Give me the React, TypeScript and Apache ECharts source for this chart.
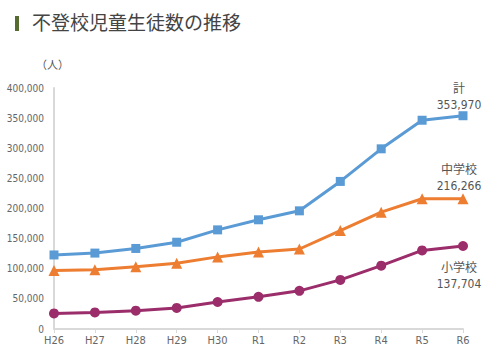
import React, { useEffect, useRef } from "react";
import * as echarts from "echarts";

const categories = ["H26", "H27", "H28", "H29", "H30", "R1", "R2", "R3", "R4", "R5", "R6"];
const totalValues = [122897, 125991, 133683, 144031, 164528, 181272, 196127, 244940, 299048, 346482, 353970];
const juniorValues = [97033, 98408, 103235, 108999, 119687, 127922, 132777, 163442, 193936, 216112, 216266];
const elementaryValues = [25864, 27583, 30448, 35032, 44841, 53350, 63350, 81498, 105112, 130370, 137704];
const seriesNames = ["計", "中学校", "小学校"];
const titleText = "不登校児童生徒数の推移";
const unitText = "（人）";

const fmt = (v: number) => v.toLocaleString("en-US");
const font = "'DejaVu Sans Condensed', 'Noto Sans CJK JP', sans-serif";

export default function App() {
  const ref = useRef<HTMLDivElement>(null);
  useEffect(() => {
    const chart = echarts.init(ref.current!, null, { renderer: "svg" });
    const last = categories.length - 1;
    const mkSeries = (name: string, data: number[], color: string, symbol: string, size: number, labelPos: "top" | "bottom", offsetY: number) => ({
      name,
      type: "line",
      data: data.map((v, i) =>
        i === last
          ? {
              value: v,
              label: {
                show: true,
                position: labelPos,
                offset: [-4, offsetY],
                formatter: () => `${name}\n${fmt(v)}`,
                color: "#555",
                fontSize: 12,
                lineHeight: 16,
                fontFamily: font,
                align: "center",
              },
            }
          : v
      ),
      symbol,
      symbolSize: size,
      itemStyle: { color },
      lineStyle: { color, width: 3 },
    });
    chart.setOption({
      animation: false,
      textStyle: { fontFamily: font },
      grid: { left: 54, right: 35, top: 88, bottom: 21 },
      graphic: [
        { type: "rect", shape: { x: 15, y: 16, width: 4, height: 15 }, style: { fill: "#556b2f" } },
        { type: "text", x: 32, y: 12, style: { text: titleText, fill: "#444", fontSize: 19, fontFamily: "'Noto Sans CJK JP', sans-serif" } },
        { type: "text", x: 36, y: 58, style: { text: unitText, fill: "#555", fontSize: 11, fontFamily: "'Noto Sans CJK JP', sans-serif" } },
      ],
      xAxis: {
        type: "category",
        data: categories,
        boundaryGap: false,
        axisLine: { lineStyle: { color: "#d9d9d9", width: 2 } },
        axisTick: { show: true, length: 4, lineStyle: { color: "#d9d9d9" } },
        axisLabel: { color: "#666", fontSize: 11, margin: 6 },
      },
      yAxis: {
        type: "value",
        min: 0,
        max: 400000,
        interval: 50000,
        axisLine: { show: true, lineStyle: { color: "#d9d9d9", width: 2 } },
        axisTick: { show: false },
        splitLine: { show: false },
        axisLabel: { color: "#666", fontSize: 10, margin: 10, formatter: (v: number) => fmt(v) },
      },
      series: [
        mkSeries(seriesNames[0], totalValues, "#5b9bd5", "rect", 9, "top", 7),
        mkSeries(seriesNames[1], juniorValues, "#ed7d31", "triangle", 11, "top", 6),
        mkSeries(seriesNames[2], elementaryValues, "#9b2d6b", "circle", 10, "bottom", 4),
      ],
    });
    return () => chart.dispose();
  }, []);
  return <div ref={ref} style={{ width: 498, height: 350, position: "absolute", left: 0, top: 0 }} />;
}
